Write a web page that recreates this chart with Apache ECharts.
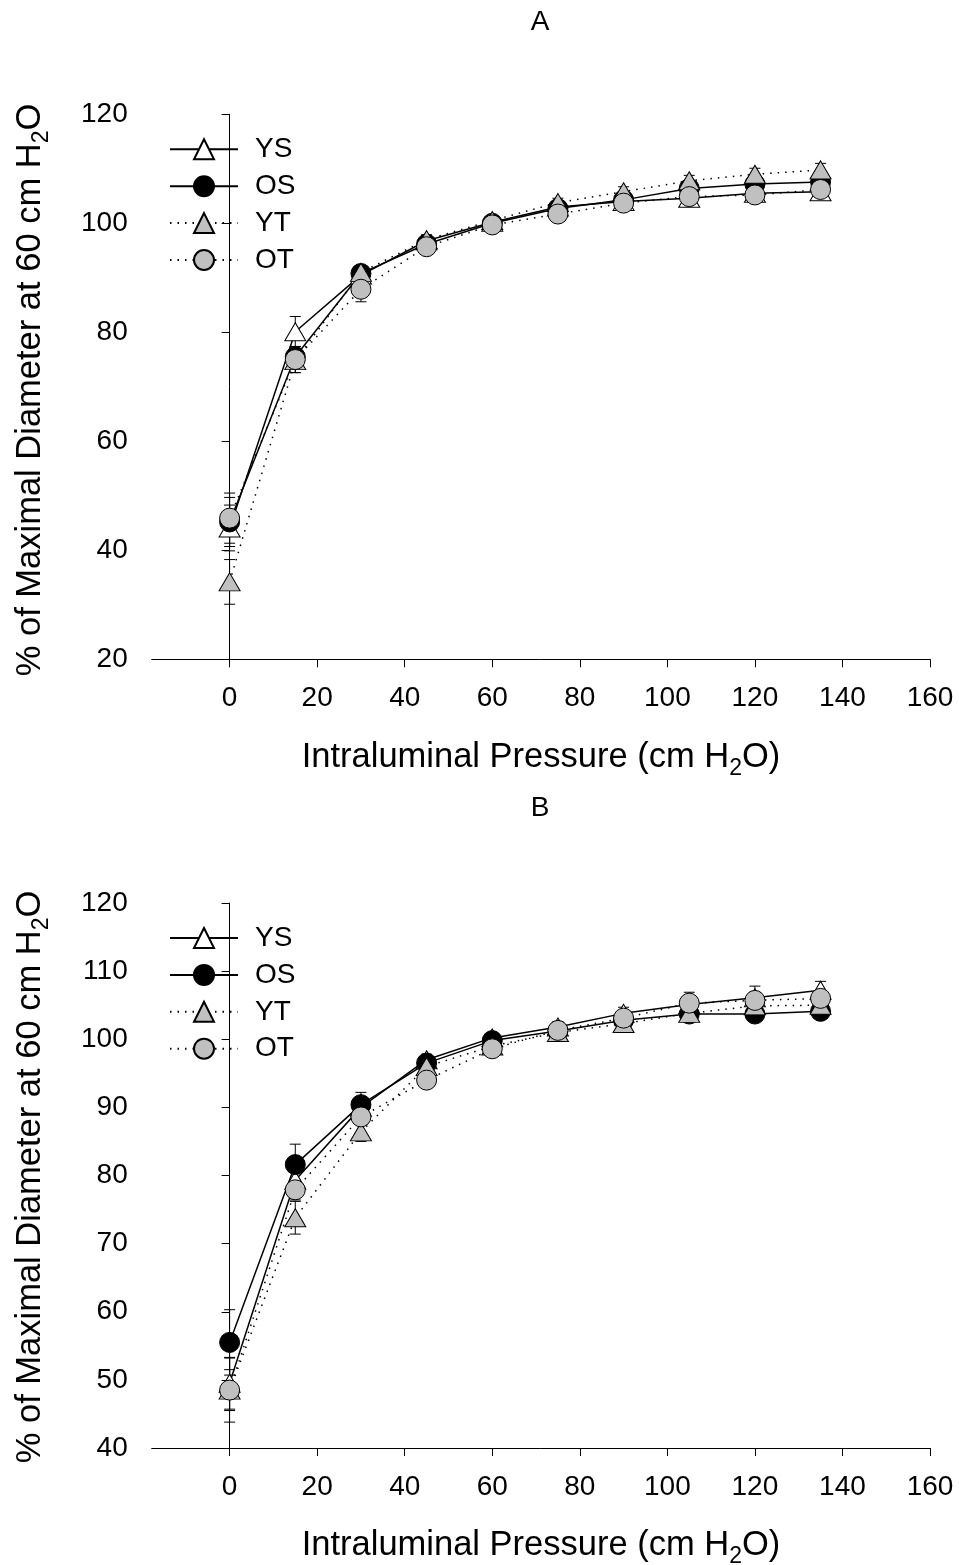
<!DOCTYPE html>
<html><head><meta charset="utf-8">
<script src="https://cdn.jsdelivr.net/npm/echarts@6/dist/echarts.min.js"></script>
<style>html,body{margin:0;padding:0;background:#fff}#c{width:959px;height:1565px}</style>
</head><body><div id="c"></div>
<script>
// ---- data ----
const pressure = [0, 15, 30, 45, 60, 75, 90, 105, 120, 135];
const xTicks = [0, 20, 40, 60, 80, 100, 120, 140, 160];
const yTicksA = [20, 40, 60, 80, 100, 120];
const yTicksB = [40, 50, 60, 70, 80, 90, 100, 110, 120];
const groupNames = ['YS', 'OS', 'YT', 'OT'];
const panelTitles = ['A', 'B'];

// Panel A means
const ysA = [44.1, 80.1, 90.5, 96.8, 100.2, 103.0, 104.0, 104.6, 105.5, 105.8];
const osA = [45.2, 75.5, 90.8, 96.2, 100.0, 102.7, 104.3, 106.4, 107.2, 107.6];
const ytA = [34.2, 74.8, 91.0, 97.0, 100.5, 103.8, 105.8, 107.8, 109.0, 109.8];
const otA = [45.9, 75.0, 87.9, 95.7, 99.7, 101.7, 103.7, 104.9, 105.2, 106.2];
// Panel A SE
const ysAerr = [4.2, 2.8, 1.0, 0.8, 0.6, 0.8, 0.9, 1.0, 1.1, 1.2];
const osAerr = [4.5, 1.9, 1.2, 0.8, 0.6, 0.8, 0.9, 1.0, 1.1, 1.2];
const ytAerr = [4.1, 2.2, 1.2, 0.9, 0.6, 0.8, 0.9, 1.0, 1.1, 1.2];
const otAerr = [4.6, 2.4, 2.3, 1.0, 0.6, 0.8, 0.9, 1.0, 1.1, 1.2];

// Panel B means
const ysB = [49.5, 79.3, 90.0, 97.0, 100.2, 101.8, 103.8, 105.1, 106.1, 107.2];
const osB = [55.5, 81.6, 90.4, 96.5, 99.8, 101.2, 102.8, 103.7, 103.7, 104.1];
const ytB = [48.5, 73.8, 86.4, 96.0, 99.0, 101.0, 102.3, 103.8, 104.9, 105.0];
const otB = [48.5, 77.9, 88.6, 94.0, 98.6, 101.3, 103.1, 105.3, 105.7, 106.0];
// Panel B SE
const ysBerr = [3.8, 1.5, 1.0, 0.8, 0.6, 0.8, 0.9, 1.2, 1.7, 1.3];
const osBerr = [4.8, 3.0, 1.8, 0.8, 0.6, 0.8, 0.9, 1.0, 1.0, 1.0];
const ytBerr = [3.0, 2.4, 1.4, 1.0, 0.6, 0.8, 0.9, 1.0, 1.0, 1.0];
const otBerr = [4.7, 1.5, 1.0, 1.0, 0.8, 0.8, 0.9, 1.6, 1.2, 1.2];

// ---- styling ----
const FONT = 'Liberation Sans, Arial, sans-serif';
const GREY = '#c0c0c0';
const styles = {
  YS: {symbol: 'triangle', size: [21, 18], fill: '#ffffff', dotted: false},
  OS: {symbol: 'circle', size: 20, fill: '#000000', dotted: false},
  YT: {symbol: 'triangle', size: [21, 18], fill: GREY, dotted: true},
  OT: {symbol: 'circle', size: 20, fill: GREY, dotted: true}
};

const panels = [
  {means: [ysA, osA, ytA, otA], errs: [ysAerr, osAerr, ytAerr, otAerr], yMin: 20, yMax: 120, yInt: 20, top: 114.3},
  {means: [ysB, osB, ytB, otB], errs: [ysBerr, osBerr, ytBerr, otBerr], yMin: 40, yMax: 120, yInt: 10, top: 903}
];

function errRender(params, api) {
  const x = api.value(0), y = api.value(1), e = api.value(2);
  const t = api.coord([x, y + e]), b = api.coord([x, y - e]);
  const hw = 5.5;
  const st = {stroke: '#000', lineWidth: 1};
  return {type: 'group', children: [
    {type: 'line', shape: {x1: t[0], y1: t[1], x2: b[0], y2: b[1]}, style: st},
    {type: 'line', shape: {x1: t[0] - hw, y1: t[1], x2: t[0] + hw, y2: t[1]}, style: st},
    {type: 'line', shape: {x1: b[0] - hw, y1: b[1], x2: b[0] + hw, y2: b[1]}, style: st}
  ]};
}

const grids = [], xAxes = [], yAxes = [], series = [], legends = [], graphics = [];
const axisLine = {show: true, lineStyle: {color: '#000', width: 1}};
panels.forEach((p, i) => {
  grids.push({left: 151.7, top: p.top, width: 778.3, height: 545, containLabel: false});
  xAxes.push({
    type: 'value', gridIndex: i, min: -17.8, max: 160,
    axisLine: axisLine, splitLine: {show: false},
    axisTick: {show: true, inside: false, length: 8, lineStyle: {color: '#000'}, customValues: xTicks},
    axisLabel: {color: '#000', fontFamily: FONT, fontSize: 28, margin: 25, customValues: xTicks}
  });
  yAxes.push({
    type: 'value', gridIndex: i, min: p.yMin, max: p.yMax, interval: p.yInt,
    axisLine: axisLine, splitLine: {show: false},
    axisTick: {show: true, inside: false, length: 8, lineStyle: {color: '#000'}},
    axisLabel: {color: '#000', fontFamily: FONT, fontSize: 28, margin: 24}
  });
  groupNames.forEach((name, k) => {
    series.push({
      type: 'custom', name: name + '_err' + i, xAxisIndex: i, yAxisIndex: i, z: 1,
      renderItem: errRender, encode: {x: 0, y: 1},
      data: pressure.map((x, j) => [x, p.means[k][j], p.errs[k][j]]),
      silent: true
    });
  });
  groupNames.forEach((name, k) => {
    const s = styles[name];
    series.push({
      type: 'line', name: name, xAxisIndex: i, yAxisIndex: i, z: 2,
      data: pressure.map((x, j) => [x, p.means[k][j]]),
      symbol: s.symbol, symbolSize: s.size, showSymbol: true,
      lineStyle: {color: '#000', width: 1.5, type: s.dotted ? [1.5, 6] : 'solid'},
      itemStyle: {color: s.fill, borderColor: '#000', borderWidth: 1},
      emphasis: {disabled: true}
    });
  });
  legends.push({
    data: groupNames, orient: 'vertical', left: 169, top: p.top + 21,
    itemWidth: 68, itemHeight: 25, itemGap: 8.9, padding: 0,
    selectedMode: false,
    textStyle: {color: '#000', fontFamily: FONT, fontSize: 28, lineHeight: 25, padding: [0, 0, 0, 12]}
  });
});

const rich = {
  n: {fontFamily: FONT, fontSize: 34.5, lineHeight: 46, fill: '#000'},
  s: {fontFamily: FONT, fontSize: 23, lineHeight: 46, verticalAlign: 'bottom', fill: '#000'}
};
const xTitleYs = [757, 1545];
const yTitleYs = [390, 1177];
const pTitleYs = [22, 808];
panels.forEach((p, i) => {
  graphics.push({type: 'text', x: 540, y: pTitleYs[i], style: {text: panelTitles[i], fontFamily: FONT, fontSize: 28, fill: '#000', align: 'center', verticalAlign: 'middle'}});
  graphics.push({type: 'text', x: 541, y: xTitleYs[i], style: {text: '{n|Intraluminal Pressure (cm H}{s|2}{n|O)}', rich: rich, align: 'center', verticalAlign: 'middle'}});
  graphics.push({type: 'text', x: 30, y: yTitleYs[i], rotation: Math.PI / 2, style: {text: '{n|% of Maximal Diameter at 60 cm H}{s|2}{n|O}', rich: rich, align: 'center', verticalAlign: 'middle'}});
});

const chart = echarts.init(document.getElementById('c'), null, {renderer: 'canvas'});
chart.setOption({
  animation: false,
  backgroundColor: '#fff',
  grid: grids, xAxis: xAxes, yAxis: yAxes, series: series, legend: legends,
  graphic: graphics
});
</script>
</body></html>
